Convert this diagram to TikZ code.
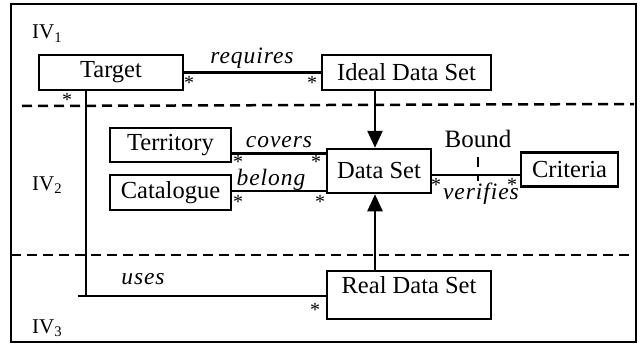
\documentclass[tikz,border=0pt]{standalone}
\usepackage{fontspec}
\setmainfont{Liberation Serif}
\usetikzlibrary{arrows.meta,calc}
\begin{document}
\begin{tikzpicture}[x=1pt,y=-1pt,
  box/.style={draw,line width=2.5pt,rectangle,inner sep=0pt,
    font=\fontsize{24.5}{28}\selectfont},
  rel/.style={line width=2.5pt},
  arr/.style={line width=2.5pt,-{Triangle[width=15pt,length=17pt]}},
  lbl/.style={inner sep=0pt,font=\fontsize{23.5}{27}\selectfont\itshape\addfontfeature{LetterSpace=4}},
  plain/.style={inner sep=0pt,font=\fontsize{25}{28}\selectfont},
  mult/.style={inner sep=0pt,yshift=-2.5pt,font=\fontsize{20}{22}\selectfont},
  sep/.style={line width=2.5pt,dash pattern=on 10pt off 6pt},
  zone/.style={inner sep=0pt,anchor=base west,font=\fontsize{21}{25}\selectfont}]
\useasboundingbox (0,0) rectangle (642,345);

% outer frame and layer separators
\draw[line width=2pt] (11,4) rectangle (636,342);
\draw[sep] (22,106) -- (634,104);
\draw[sep] (11,255) -- (636,255);

% layer labels
\node[zone] (iv1) at (32,39) {IV\textsubscript{1}};
\node[zone] (iv2) at (32,190) {IV\textsubscript{2}};
\node[zone] (iv3) at (32,333) {IV\textsubscript{3}};

% classes
\node[box,minimum width=144pt,minimum height=35pt] (target) at (111,72.5) {Target};
\node[box,minimum width=169pt,minimum height=35pt] (ideal) at (406.5,72.5) {Ideal Data Set};
\node[box,minimum width=121pt,minimum height=34pt] (terr) at (170.5,145) {Territory};
\node[box,minimum width=121pt,minimum height=35pt] (cat) at (170.5,192.5) {Catalogue};
\node[box,minimum width=104pt,minimum height=44pt] (ds) at (379,171) {Data Set};
\node[box,minimum width=97pt,minimum height=34pt] (crit) at (569.5,169.5) {Criteria};
\node[box,minimum width=164pt,minimum height=48pt,text height=17pt,text depth=20pt] (rds) at (409,295) {Real Data Set};

% associations
\draw[rel] (target.east) -- (ideal.west);
\node[lbl] (lreq) at (252,58) {requires};

\coordinate (dsin) at ($(ds.north)+(-4,0)$);
\draw[arr] (ideal.south -| dsin) -- (dsin);
\coordinate (dsout) at ($(ds.south)+(-4,0)$);
\draw[arr] (rds.north -| dsout) -- (dsout);

\draw[rel] ($(terr.south east)+(0,-10)$) coordinate (cv) -- (cv -| ds.west);
\node[lbl] (lcov) at (279,142) {covers};
\draw[rel] ($(cat.east)+(0,-1.5)$) coordinate (bl) -- (bl -| ds.west);
\node[lbl] (lbel) at (271,180) {belong};

\draw[rel] ($(crit.west)+(0,5.5)$) coordinate (vf) -- (vf -| ds.east);
\node[lbl] (lver) at (481,194) {verifies};
\node[plain] (lbound) at (478,139) {Bound};
\draw[line width=2pt,dash pattern=on 10pt off 8pt] (lbound.south |- 0,157) -- (lbound.south |- 0,181);

\coordinate (tfoot) at ($(target.south west)+(48,0)$);
\coordinate (ujoin) at (tfoot |- 0,296);
\draw[rel] (tfoot) -- (ujoin);
\draw[rel] ($(ujoin)+(-8,0)$) -- (ujoin -| rds.west);
\node[lbl] (luse) at (143,279) {uses};

% multiplicities
\node[mult] (m1) at (189,80) {*};
\node[mult] (m2) at (312,80) {*};
\node[mult] (m3) at (67,97) {*};
\node[mult] (m4) at (238,159) {*};
\node[mult] (m5) at (316,159) {*};
\node[mult] (m6) at (238,199) {*};
\node[mult] (m7) at (320,199) {*};
\node[mult] (m8) at (436,182) {*};
\node[mult] (m9) at (512,182) {*};
\node[mult] (m10) at (315,307) {*};
\end{tikzpicture}
\end{document}
